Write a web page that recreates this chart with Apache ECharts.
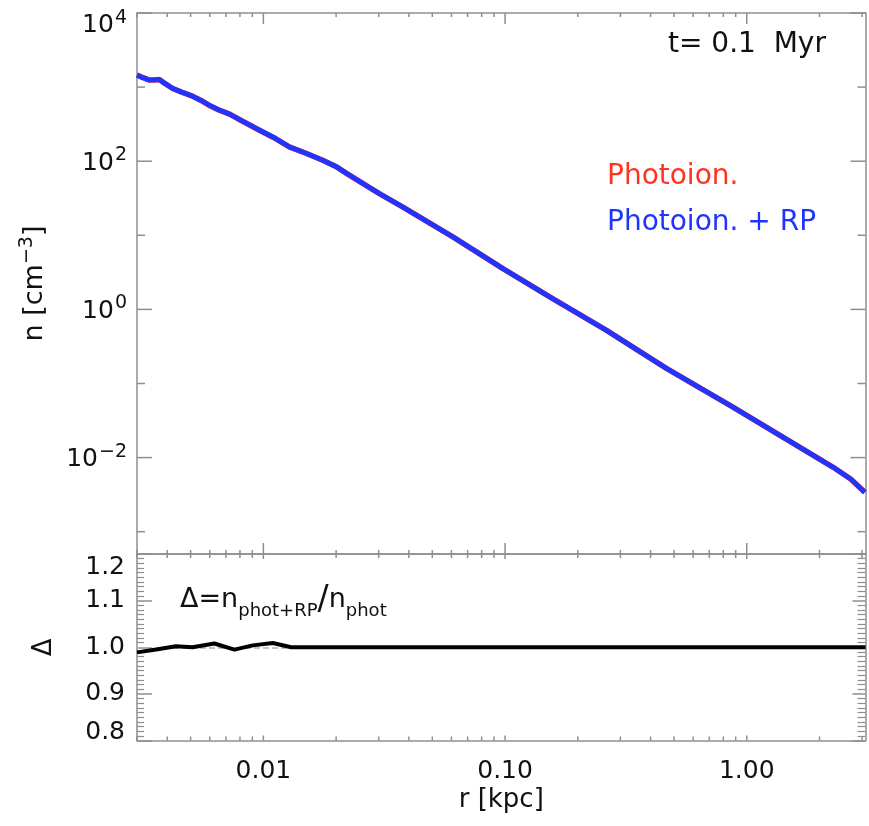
<!DOCTYPE html>
<html>
<head>
<meta charset="utf-8">
<script src="https://cdn.jsdelivr.net/npm/echarts@6/dist/echarts.min.js"></script>
<style>html,body{margin:0;padding:0;background:#fff}#c{width:869px;height:826px}</style>
</head>
<body>
<div id="c"></div>
<script>
// ---- data ----
const rTop = [0.0030, 0.00315, 0.00337, 0.00355, 0.00371, 0.0039, 0.00421, 0.0046, 0.00509, 0.0055, 0.00597, 0.0065, 0.00723, 0.0082, 0.00933, 0.011, 0.0128, 0.015, 0.0176, 0.0200, 0.0220, 0.0275, 0.0302, 0.0378, 0.0608, 0.098, 0.158, 0.262, 0.465, 0.877, 1.66, 2.28, 2.7, 3.08];
const nPhotRP = [1450, 1350, 1245, 1255, 1270, 1130, 960, 855, 755, 667, 571, 497, 432, 347, 277, 211, 156, 128, 103, 84.5, 69, 44, 36.5, 24, 9.5, 3.55, 1.39, 0.525, 0.160, 0.0479, 0.01377, 0.0074, 0.0051, 0.0034];
const nPhot = [1460, 1360, 1250, 1250, 1265, 1125, 958, 852, 755, 665, 566, 495, 435, 346, 276, 209, 156, 128, 103, 84.5, 69, 44, 36.5, 24, 9.5, 3.55, 1.39, 0.525, 0.160, 0.0479, 0.01377, 0.0074, 0.0051, 0.0034];
const rDelta = [0.0030, 0.0036, 0.00435, 0.00509, 0.00627, 0.00759, 0.00904, 0.01094, 0.01303, 0.1, 1.0, 3.1];
const delta = [0.989, 0.995, 1.002, 1.000, 1.008, 0.995, 1.004, 1.009, 1.000, 1.000, 1.000, 1.000];
const xMajorTicks = [0.01, 0.1, 1];
const xMinorTicks = [0.003, 0.004, 0.005, 0.006, 0.007, 0.008, 0.009, 0.02, 0.03, 0.04, 0.05, 0.06, 0.07, 0.08, 0.09, 0.2, 0.3, 0.4, 0.5, 0.6, 0.7, 0.8, 0.9, 2, 3];
const yMajorTicks = [1e-2, 1, 1e2, 1e4];
const yMinorTicks = [1e-3, 1e-1, 1e1, 1e3];
const deltaTicks = [0.8, 0.9, 1.0, 1.1, 1.2];
const seriesNames = ['Photoion.', 'Photoion. + RP'];

// ---- ranges / style ----
const X_RANGE = [0.003, 3.1];
const N_RANGE = [5e-4, 1e4];
const D_RANGE = [0.8, 1.2];
const AX = '#8e8e8e';
const FONT = 'DejaVu Sans';
const TXT = '#111';
const RED = '#ff3322';
const BLUE = '#1f35ff';

const zip = (a, b) => a.map((v, i) => [v, b[i]]);
const isDecade = v => Math.abs(Math.log10(v) - Math.round(Math.log10(v))) < 1e-6;
const sup = e => (e < 0 ? '\u2212' + (-e) : String(e));

function tickSeries(xi, yi, values, dir, len, yr, xr) {
  return {
    type: 'custom', xAxisIndex: xi, yAxisIndex: yi, silent: true, z: 1,
    data: values.map(v => dir === 'x' ? [v, yr[0]] : [xr[0], v]),
    renderItem: (params, api) => {
      const st = { stroke: AX, lineWidth: 1.5 };
      if (dir === 'x') {
        const v = api.value(0);
        const a = api.coord([v, yr[0]]), b = api.coord([v, yr[1]]);
        return { type: 'group', children: [
          { type: 'line', shape: { x1: a[0], y1: a[1], x2: a[0], y2: a[1] - len }, style: st },
          { type: 'line', shape: { x1: b[0], y1: b[1], x2: b[0], y2: b[1] + len }, style: st }
        ]};
      } else {
        const v = api.value(1);
        const a = api.coord([xr[0], v]), b = api.coord([xr[1], v]);
        return { type: 'group', children: [
          { type: 'line', shape: { x1: a[0], y1: a[1], x2: a[0] + len, y2: a[1] }, style: st },
          { type: 'line', shape: { x1: b[0], y1: b[1], x2: b[0] - len, y2: b[1] }, style: st }
        ]};
      }
    }
  };
}

const axLine = { show: true, onZero: false, lineStyle: { color: AX, width: 1.5 } };
const hidden = { axisLabel: { show: false }, axisTick: { show: false }, splitLine: { show: false }, minorTick: { show: false } };

const chart = echarts.init(document.getElementById('c'), null, { renderer: 'canvas' });
chart.setOption({
  animation: false,
  backgroundColor: '#fff',
  textStyle: { fontFamily: FONT },
  grid: [
    { left: 137, right: 3.5, top: 13, height: 541, containLabel: false, outerBoundsMode: 'none' },
    { left: 137, right: 3.5, top: 554, height: 186.5, containLabel: false, outerBoundsMode: 'none' }
  ],
  xAxis: [
    Object.assign({ type: 'log', gridIndex: 0, position: 'bottom', min: X_RANGE[0], max: X_RANGE[1], axisLine: axLine }, hidden),
    Object.assign({ type: 'log', gridIndex: 0, position: 'top', min: X_RANGE[0], max: X_RANGE[1], axisLine: axLine }, hidden),
    Object.assign({ type: 'log', gridIndex: 1, position: 'bottom', min: X_RANGE[0], max: X_RANGE[1], axisLine: axLine }, hidden, {
      axisLabel: {
        show: true, margin: 18, color: TXT, fontFamily: FONT, fontSize: 25,
        formatter: v => isDecade(v) ? v.toFixed(2) : ''
      },
      name: 'r [kpc]', nameLocation: 'middle', nameGap: 47,
      nameTextStyle: { color: TXT, fontFamily: FONT, fontSize: 26 }
    }),
    Object.assign({ type: 'log', gridIndex: 1, position: 'top', min: X_RANGE[0], max: X_RANGE[1], axisLine: axLine }, hidden)
  ],
  yAxis: [
    Object.assign({ type: 'log', gridIndex: 0, position: 'left', min: N_RANGE[0], max: N_RANGE[1], axisLine: axLine }, hidden, {
      axisLabel: {
        show: true, margin: 10, color: TXT, fontFamily: FONT, showMaxLabel: true,
        formatter: v => {
          if (!isDecade(v)) return '';
          const e = Math.round(Math.log10(v));
          if (e % 2 !== 0) return '';
          if (Math.abs(v - N_RANGE[1]) < 1e-6 * N_RANGE[1]) return '{bt|10}{st|' + sup(e) + '}';
          return '{b|10}{s|' + sup(e) + '}';
        },
        rich: {
          b: { fontSize: 25, fontFamily: FONT, color: TXT, padding: [4, 0, 0, 0] },
          s: { fontSize: 19, fontFamily: FONT, color: TXT, padding: [0, 0, 12, 1] },
          bt: { fontSize: 25, fontFamily: FONT, color: TXT, padding: [24, 0, 0, 0] },
          st: { fontSize: 19, fontFamily: FONT, color: TXT, padding: [10, 0, 0, 1] }
        }
      },
      name: '{a|n [cm}{s|\u22123}{a|]}', nameLocation: 'middle', nameGap: 86, nameRotate: 90,
      nameTextStyle: {
        rich: {
          a: { fontSize: 27, fontFamily: FONT, color: TXT },
          s: { fontSize: 19, fontFamily: FONT, color: TXT, padding: [0, 0, 14, 0] }
        }
      }
    }),
    Object.assign({ type: 'log', gridIndex: 0, position: 'right', min: N_RANGE[0], max: N_RANGE[1], axisLine: axLine }, hidden),
    {
      type: 'value', gridIndex: 1, position: 'left', min: D_RANGE[0], max: D_RANGE[1], interval: 0.1,
      axisLine: axLine, splitLine: { show: false },
      axisTick: { show: true, inside: true, length: 15, lineStyle: { color: AX, width: 1.5 } },
      minorTick: { show: true, splitNumber: 10, length: 7, lineStyle: { color: AX, width: 1.2 } },
      axisLabel: {
        show: true, margin: 12, color: TXT, fontFamily: FONT, showMinLabel: true, showMaxLabel: true,
        formatter: v => {
          const t = v.toFixed(1);
          if (Math.abs(v - deltaTicks[deltaTicks.length - 1]) < 1e-6) return '{t|' + t + '}';
          if (Math.abs(v - deltaTicks[0]) < 1e-6) return '{d|' + t + '}';
          return '{n|' + t + '}';
        },
        rich: {
          n: { fontSize: 25, fontFamily: FONT, color: TXT },
          t: { fontSize: 25, fontFamily: FONT, color: TXT, padding: [26, 0, 0, 0] },
          d: { fontSize: 25, fontFamily: FONT, color: TXT, padding: [0, 0, 17, 0] }
        }
      },
      name: '\u0394', nameLocation: 'middle', nameGap: 80, nameRotate: 90,
      nameTextStyle: { color: TXT, fontFamily: FONT, fontSize: 26 }
    },
    {
      type: 'value', gridIndex: 1, position: 'right', min: D_RANGE[0], max: D_RANGE[1], interval: 0.1,
      axisLine: axLine, splitLine: { show: false }, axisLabel: { show: false },
      axisTick: { show: true, inside: true, length: 13, lineStyle: { color: AX, width: 1.5 } },
      minorTick: { show: true, splitNumber: 10, length: 8, lineStyle: { color: AX, width: 1.2 } }
    }
  ],
  legend: {
    orient: 'vertical', left: 597, top: 156, itemGap: 14, itemWidth: 0, itemHeight: 0,
    selectedMode: false,
    data: [
      { name: seriesNames[0], icon: 'rect', textStyle: { color: RED } },
      { name: seriesNames[1], icon: 'rect', textStyle: { color: BLUE } }
    ],
    textStyle: { fontFamily: FONT, fontSize: 28, lineHeight: 32 }
  },
  graphic: [
    { type: 'text', x: 668, y: 45, silent: true,
      style: { text: 't= 0.1  Myr', fontFamily: FONT, fontSize: 28, fill: TXT, verticalAlign: 'middle', align: 'left' } },
    { type: 'text', x: 180, y: 600, silent: true,
      style: {
        text: '{a|\u0394=n}{b|phot+RP}{c|/}{a|n}{b|phot}', verticalAlign: 'middle', align: 'left',
        rich: {
          a: { fontFamily: FONT, fontSize: 27, fill: TXT },
          c: { fontFamily: FONT, fontSize: 33, fill: TXT },
          b: { fontFamily: FONT, fontSize: 18, fill: TXT, padding: [22, 0, 0, 0] }
        }
      } }
  ],
  series: [
    tickSeries(0, 0, xMajorTicks, 'x', 11, N_RANGE, X_RANGE),
    tickSeries(0, 0, xMinorTicks, 'x', 4, N_RANGE, X_RANGE),
    tickSeries(0, 0, yMajorTicks, 'y', 15, N_RANGE, X_RANGE),
    tickSeries(0, 0, yMinorTicks, 'y', 8, N_RANGE, X_RANGE),
    tickSeries(2, 2, xMajorTicks, 'x', 5, D_RANGE, X_RANGE),
    tickSeries(2, 2, xMinorTicks, 'x', 4, D_RANGE, X_RANGE),
    {
      name: seriesNames[0], type: 'line', xAxisIndex: 0, yAxisIndex: 0, data: zip(rTop, nPhot),
      symbol: 'none', z: 2, lineStyle: { color: RED, width: 5.5 }, itemStyle: { color: RED }
    },
    {
      name: seriesNames[1], type: 'line', xAxisIndex: 0, yAxisIndex: 0, data: zip(rTop, nPhotRP),
      symbol: 'none', z: 3, lineStyle: { color: BLUE, width: 5 }, itemStyle: { color: BLUE }
    },
    {
      name: 'ref', type: 'line', xAxisIndex: 2, yAxisIndex: 2, data: [], z: 1,
      markLine: { silent: true, z: 1, symbol: 'none', label: { show: false },
        lineStyle: { color: '#b0b0b0', type: 'dashed', width: 1.5 }, data: [{ yAxis: 1 }] }
    },
    {
      name: 'delta', type: 'line', xAxisIndex: 2, yAxisIndex: 2, data: zip(rDelta, delta),
      symbol: 'none', z: 6, lineStyle: { color: '#000', width: 4 }
    }
  ]
});
</script>
</body>
</html>
